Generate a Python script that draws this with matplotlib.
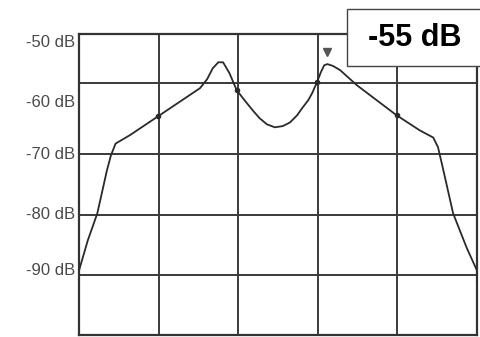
import matplotlib
matplotlib.use('Agg')
import matplotlib.pyplot as plt
from matplotlib.patches import Rectangle
import numpy as np

# Spectrum trace (x in grid divisions, y in dB).
freq_div = [0.00, 0.11, 0.23, 0.35, 0.40, 0.46, 0.64, 0.99, 1.52, 1.61,
            1.68, 1.75, 1.81, 1.89, 1.97, 1.98, 2.05, 2.11, 2.19, 2.27,
            2.36, 2.46, 2.56, 2.65, 2.74, 2.81, 2.88, 2.93, 2.99, 3.04,
            3.08, 3.12, 3.19, 3.28, 3.49, 3.99, 4.28, 4.45, 4.51, 4.57,
            4.70, 4.87, 5.00, 5.00]
level_db = [-89.3, -84.3, -79.8, -72.7, -70.2, -68.2, -66.8, -63.7, -59.0,
            -57.5, -55.7, -54.7, -54.7, -56.5, -59.0, -59.3, -60.5, -61.5,
            -62.8, -64.0, -65.0, -65.5, -65.3, -64.7, -63.5, -62.2, -61.0,
            -59.8, -58.0, -56.3, -55.2, -55.0, -55.3, -56.0, -58.5, -63.5,
            -66.0, -67.2, -68.8, -72.2, -79.8, -85.5, -89.3, -91.5]
dot_idx = [7, 15, 28, 35]   # dots where the trace crosses vertical grid lines

y_labels = ['-50 dB', '-60 dB', '-70 dB', '-80 dB', '-90 dB']
peak_text = '-55 dB'

# Screen grid as it appears in the scan
hgrid = [-58.2, -70, -80, -90]
vgrid = [1, 2, 3, 4]
label_pos = [-51.2, -61.2, -69.7, -79.7, -89.0]

fig = plt.figure(figsize=(4.81, 3.37), dpi=100)
ax = fig.add_axes([79 / 481, 2 / 337, 398 / 481, 301 / 337])

ax.set_xlim(0, 5)
ax.set_ylim(-100, -50)

for y in hgrid:
    ax.axhline(y, color='#3a3a3a', lw=1.4, zorder=1)
for x in vgrid:
    ax.axvline(x, color='#3a3a3a', lw=1.4, zorder=1)

ax.plot(freq_div, level_db, color='#2a2a2a', lw=1.3, zorder=3,
        marker='o', markersize=3, markevery=dot_idx)

# peak marker triangle
ipk = int(np.argmax(level_db[20:])) + 20
ax.plot(freq_div[ipk], level_db[ipk] + 2.0, marker='v', color='#555555',
        markersize=6, zorder=4)

for s in ax.spines.values():
    s.set_color('#333333')
    s.set_linewidth(1.6)

ax.set_xticks([])
ax.set_yticks(label_pos)
ax.set_yticklabels(y_labels, fontsize=12, color='#4a4a4a',
                   family='Liberation Sans')
ax.tick_params(axis='y', length=0, pad=3)

# readout box, running off the right edge
fig.patches.append(Rectangle((347 / 481, 1 - 66 / 337), 150 / 481, 57 / 337,
                             transform=fig.transFigure, fc='white',
                             ec='#444444', lw=1.0, zorder=5))
fig.text(415 / 481, 1 - 38 / 337, peak_text, fontsize=22, fontweight='bold',
         family='Liberation Sans', va='center', ha='center', zorder=6)

fig.savefig('out.png', dpi=100)
